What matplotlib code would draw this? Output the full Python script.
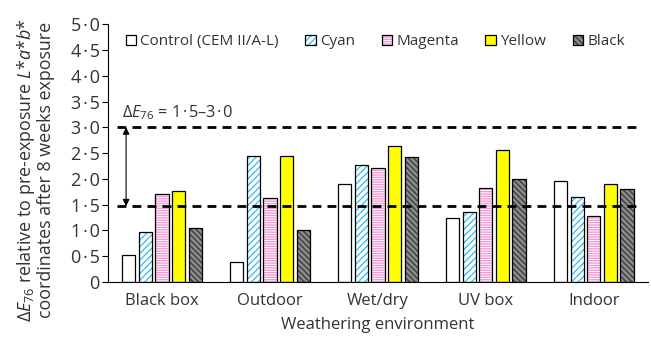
import numpy as np
import matplotlib
matplotlib.use("Agg")
import matplotlib.pyplot as plt
from matplotlib.ticker import FuncFormatter, MultipleLocator
from matplotlib.legend_handler import HandlerTuple

plt.rcParams['font.family'] = ['Open Sans', 'DejaVu Sans']
plt.rcParams['mathtext.fontset'] = 'custom'
plt.rcParams['mathtext.rm'] = 'Open Sans'
plt.rcParams['mathtext.it'] = 'Open Sans:italic'
plt.rcParams['hatch.linewidth'] = 1.0

environments = ['Black box', 'Outdoor', 'Wet/dry', 'UV box', 'Indoor']
series = ['Control (CEM II/A-L)', 'Cyan', 'Magenta', 'Yellow', 'Black']
control = [0.52, 0.39, 1.90, 1.24, 1.95]
cyan = [0.97, 2.45, 2.27, 1.36, 1.65]
magenta = [1.70, 1.63, 2.22, 1.83, 1.27]
yellow = [1.76, 2.44, 2.64, 2.56, 1.90]
black = [1.05, 1.01, 2.43, 1.99, 1.80]
values = [control, cyan, magenta, yellow, black]
band_low, band_high = 1.47, 3.0

# face colour, hatch colour, hatch pattern
styles = [
    ('white', 'white', None),
    ('white', '#45bfee', '/////'),
    ('white', '#f49ad8', '-------'),
    ('#ffff00', '#ffff00', None),
    ('#8c8c8c', '#3c3c3c', '\\\\\\\\\\\\'),
]

DOT = '\u200a·\u200a'  # spaced decimal middle dot
txt = '#333333'
fig = plt.figure(figsize=(6.51, 3.38), dpi=100)
ax = fig.add_axes([0.166, 0.166, 0.829, 0.762])

x = np.arange(len(environments))
step, width = 0.154, 0.123
handles = []
for i, (vals, (fc, hc, hatch)) in enumerate(zip(values, styles)):
    pos = x + (i - 2) * step
    b1 = ax.bar(pos, vals, width, color=fc, edgecolor=hc, hatch=hatch, linewidth=0, zorder=2)
    b2 = ax.bar(pos, vals, width, fill=False, edgecolor='black', linewidth=0.9, zorder=3)
    handles.append((b1.patches[0], b2.patches[0]))

for y in (band_low, band_high):
    ax.plot([-0.417, 4.45], [y, y], color='black', lw=2, dashes=(3.2, 2.2), zorder=4)

ax.annotate('', xy=(-0.333, band_low), xytext=(-0.333, band_high),
            arrowprops=dict(arrowstyle='<|-|>', color='black', lw=0.8,
                            mutation_scale=10, shrinkA=0, shrinkB=0), zorder=5)
ax.text(-0.375, 3.28, r'$\Delta E_{76}$ = 1' + DOT + '5–3' + DOT + '0',
        fontsize=11.8, color=txt, va='center', ha='left')

ax.set_xlim(-0.5, 4.5)
ax.set_ylim(0, 5)
ax.yaxis.set_major_locator(MultipleLocator(0.5))
ax.yaxis.set_major_formatter(FuncFormatter(
    lambda v, p: '0' if v == 0 else f'{v:.1f}'.replace('.', DOT)))
ax.set_xticks(x)
ax.set_xticklabels(environments)
ax.tick_params(axis='x', length=0, pad=8, labelsize=12, labelcolor=txt)
ax.tick_params(axis='y', length=4, width=0.8, pad=2, labelsize=13, labelcolor=txt)
for s in ('top', 'right'):
    ax.spines[s].set_visible(False)
ax.spines['left'].set_linewidth(0.8)
ax.spines['bottom'].set_linewidth(0.8)

ax.set_xlabel('Weathering environment', fontsize=12, color=txt, labelpad=6)
fig.text(0.053, 0.497, '$\\Delta E_{76}$ relative to pre-exposure $L$*$a$*$b$*\ncoordinates after 8 weeks exposure',
         fontsize=12.9, color=txt, rotation=90, ha='center', va='center',
         multialignment='center', linespacing=1.0)

leg = ax.legend(handles, series, handler_map={tuple: HandlerTuple(ndivide=1)},
                loc='upper center', bbox_to_anchor=(0.495, 0.985), ncol=5, frameon=False,
                fontsize=11, handlelength=0.7, handleheight=0.7, handletextpad=0.25,
                columnspacing=1.75, borderaxespad=0)
for t in leg.get_texts():
    t.set_color(txt)

fig.savefig('out.png', dpi=100)
